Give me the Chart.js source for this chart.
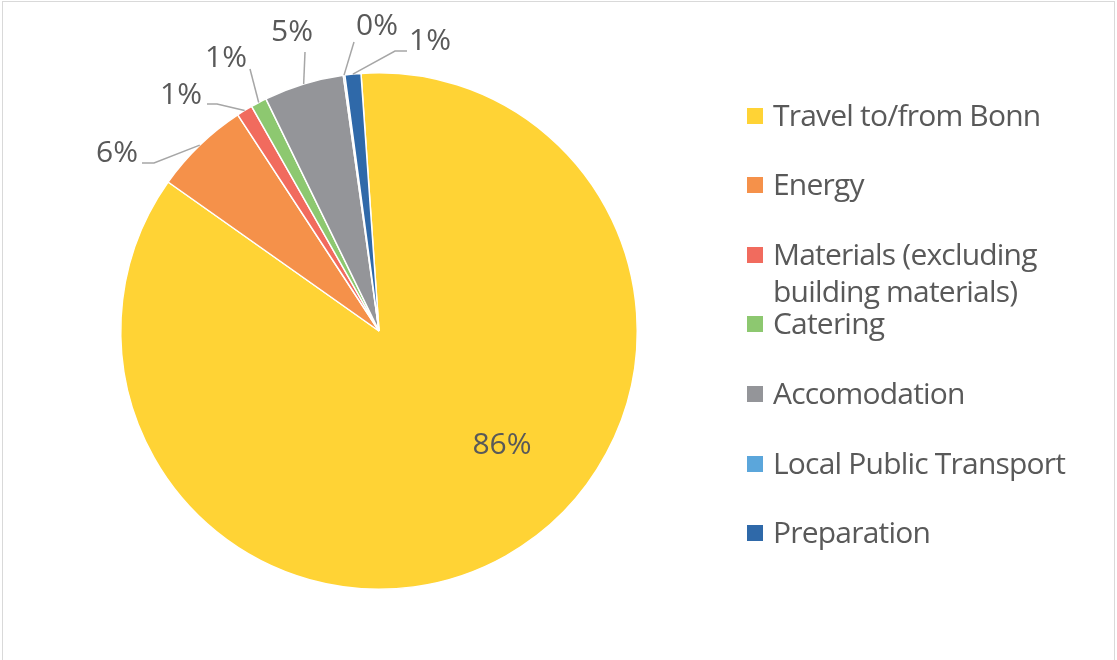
<!DOCTYPE html>
<html>
<head>
<meta charset="utf-8">
<script src="https://cdn.jsdelivr.net/npm/chart.js@4"></script>
<style>
    html, body { margin: 0; padding: 0; background: #fff; }
    #wrap { position: relative; width: 1117px; height: 660px; overflow: hidden; font-family: 'Open Sans', sans-serif; color: #595959; }
    #frame { position: absolute; left: 2px; top: 1px; width: 1113px; height: 700px; border: 1px solid #d9d9d9; box-sizing: border-box; }
    #chart { position: absolute; left: 0; top: 0; }
    .item { position: absolute; left: 747px; font-size: 30px; line-height: 37px; letter-spacing: -0.8px; white-space: nowrap; }
    .item i { position: absolute; left: 0; top: 12px; width: 16px; height: 16px; }
    .item span { display: block; margin-left: 26px; }
</style>
</head>
<body>
<div id="wrap">
    <div id="frame"></div>
    <canvas id="chart" width="1117" height="660"></canvas>
    <div id="legend"></div>
</div>
<script>
const categories = ['Travel to/from Bonn', 'Energy', ['Materials (excluding', 'building materials)'], 'Catering', 'Accomodation', 'Local Public Transport', 'Preparation'];
const shares = [85.9, 6.0, 1.0, 1.0, 5.0, 0.1, 1.0];
const colors = ['#FFD335', '#F5914A', '#F16B5E', '#8DC870', '#949599', '#5BA6DB', '#2F69A9'];

// where each percentage label sits, and the bend of its leader line
const labelSpots = [
    { x: 502, y: 445, path: [] },
    { x: 117, y: 153, path: [[142, 163], [154, 163]] },
    { x: 181, y: 95, path: [[207, 104], [217, 104]] },
    { x: 226, y: 58, path: [[250, 69]] },
    { x: 292, y: 32, path: [[305, 52]] },
    { x: 377, y: 26, path: [[354, 42]] },
    { x: 430, y: 41, path: [[407, 51], [395, 51]] }
];

const total = shares.reduce((a, b) => a + b, 0);

const pieLabels = {
    id: 'pieLabels',
    afterDatasetsDraw(chart) {
        const c = chart.ctx;
        const arcs = chart.getDatasetMeta(0).data;
        c.save();
        c.font = '30px "Open Sans"';
        c.fillStyle = '#595959';
        c.textAlign = 'center';
        c.textBaseline = 'middle';
        arcs.forEach((arc, i) => {
            const p = arc.getProps(['x', 'y', 'startAngle', 'endAngle', 'outerRadius'], true);
            const spot = labelSpots[i];
            if (spot.path.length) {
                const mid = (p.startAngle + p.endAngle) / 2;
                c.beginPath();
                c.strokeStyle = '#A6A6A6';
                c.lineWidth = 1.5;
                c.moveTo(spot.path[0][0], spot.path[0][1]);
                spot.path.slice(1).forEach(pt => c.lineTo(pt[0], pt[1]));
                c.lineTo(p.x + Math.cos(mid) * p.outerRadius, p.y + Math.sin(mid) * p.outerRadius);
                c.stroke();
            }
            c.fillText(Math.round(shares[i] / total * 100) + '%', spot.x, spot.y);
        });
        c.restore();
    }
};

new Chart(document.getElementById('chart'), {
    type: 'pie',
    data: {
        labels: categories,
        datasets: [{
            data: shares,
            backgroundColor: colors,
            borderColor: '#ffffff',
            borderWidth: 1.5
        }]
    },
    options: {
        responsive: false,
        animation: false,
        devicePixelRatio: 1,
        rotation: -4,
        layout: { padding: { left: 120, right: 479, top: 72, bottom: 70 } },
        plugins: {
            legend: { display: false },
            tooltip: { enabled: false }
        }
    },
    plugins: [pieLabels]
});

// legend rows
const legend = document.getElementById('legend');
categories.forEach((name, i) => {
    const row = document.createElement('div');
    row.className = 'item';
    row.style.top = (116 + i * 69.6 - 20.5) + 'px';
    const box = document.createElement('i');
    box.style.background = colors[i];
    const txt = document.createElement('span');
    txt.innerHTML = [].concat(name).join('<br>');
    row.appendChild(box);
    row.appendChild(txt);
    legend.appendChild(row);
});
</script>
</body>
</html>
